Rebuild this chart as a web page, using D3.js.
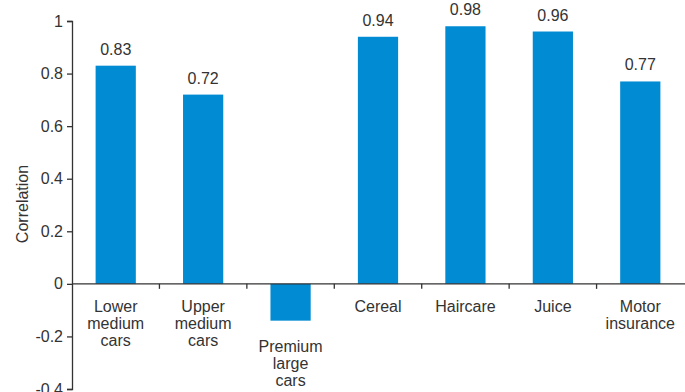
<!DOCTYPE html>
<html>
<head>
<meta charset="utf-8">
<script src="https://cdn.jsdelivr.net/npm/d3@7"></script>
<style>
  body { margin: 0; background: #fff; }
  text { font-family: "Liberation Sans", Arial, sans-serif; fill: #333; }
</style>
</head>
<body>
<div id="chart"></div>
<script>
// Chart data
var categories = ["Lower|medium|cars", "Upper|medium|cars", "Premium|large|cars",
    "Cereal", "Haircare", "Juice", "Motor|insurance"];
var correlations = [0.83, 0.72, -0.14, 0.94, 0.98, 0.96, 0.77];
var showValue = [true, true, false, true, true, true, true];
var yTicks = [-0.4, -0.2, 0, 0.2, 0.4, 0.6, 0.8, 1];

var svgWidth = 685;
var svgHeight = 392;

var svg = d3.select("#chart")
    .append("svg")
    .attr("width", svgWidth)
    .attr("height", svgHeight);

var data = categories.map(function(c, i) {
    return { cat: c, value: correlations[i], show: showValue[i] };
});

// scales
var x = d3.scaleBand()
    .domain(categories)
    .range([72, 684])
    .paddingInner(0.54)
    .paddingOuter(0.27);

var y = d3.scaleLinear()
    .domain([-0.4, 1])
    .range([389, 21]);

// bars
svg.selectAll("rect")
    .data(data)
    .enter()
    .append("rect")
    .attr("x", d => x(d.cat))
    .attr("width", x.bandwidth())
    .attr("y", d => y(Math.max(0, d.value)))
    .attr("height", d => Math.abs(y(d.value) - y(0)))
    .attr("fill", "#008bd2");

// y axis
var leftAxis = d3.axisLeft(y)
    .tickValues(yTicks)
    .tickSize(5)
    .tickPadding(4)
    .tickFormat(d => String(+d.toFixed(1)));

var yAxis = svg.append("g")
    .attr("transform", "translate(72,0)")
    .call(leftAxis);
yAxis.select(".domain").attr("stroke", "#333").attr("stroke-width", 1.3);
yAxis.selectAll(".tick line").attr("stroke", "#333").attr("stroke-width", 1.3);
yAxis.selectAll(".tick text")
    .attr("font-size", "16px")
    .attr("font-family", "Liberation Sans, Arial, sans-serif")
    .attr("fill", "#333");

// x axis (zero line + boundary ticks)
var step = x.step();
var start = x(categories[0]) - step * x.paddingInner() / 2;
svg.append("line")
    .attr("x1", 72).attr("x2", 685)
    .attr("y1", y(0)).attr("y2", y(0))
    .attr("stroke", "#333").attr("stroke-width", 1.3);

var bounds = d3.range(1, categories.length).map(i => start + i * step);
svg.selectAll(".xtick")
    .data(bounds)
    .enter()
    .append("line")
    .attr("class", "xtick")
    .attr("x1", d => d).attr("x2", d => d)
    .attr("y1", y(0)).attr("y2", y(0) + 5)
    .attr("stroke", "#333").attr("stroke-width", 1.3);

// category labels
var catLabels = svg.selectAll(".catlabel")
    .data(data)
    .enter()
    .append("text")
    .attr("class", "catlabel")
    .attr("text-anchor", "middle")
    .attr("font-size", "16px")
    .attr("transform", function(d) {
        var base = d.value < 0 ? y(d.value) + 31 : y(0) + 28;
        return `translate(${x(d.cat) + x.bandwidth() / 2}, ${base})`;
    });

catLabels.each(function(d) {
    var lines = d.cat.split("|");
    var t = d3.select(this);
    lines.forEach(function(l, i) {
        t.append("tspan")
            .attr("x", 0)
            .attr("y", i * 17)
            .text(l);
    });
});

// value labels
svg.selectAll(".vlabel")
    .data(data.filter(d => d.show))
    .enter()
    .append("text")
    .attr("class", "vlabel")
    .attr("text-anchor", "middle")
    .attr("font-size", "16px")
    .attr("x", d => x(d.cat) + x.bandwidth() / 2)
    .attr("y", d => y(d.value) - 11)
    .text(d => d.value.toFixed(2));

// y axis title
svg.append("text")
    .attr("transform", "rotate(-90)")
    .attr("x", -204)
    .attr("y", 28)
    .attr("text-anchor", "middle")
    .attr("font-size", "16px")
    .text("Correlation");
</script>
</body>
</html>
